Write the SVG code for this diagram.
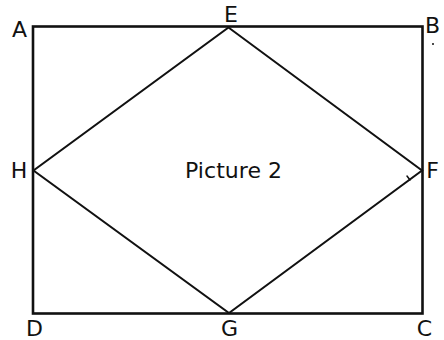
<svg xmlns="http://www.w3.org/2000/svg" width="444" height="340" viewBox="0 0 444 340">
<style>
.lbl{font-family:"DejaVu Sans","Liberation Sans",sans-serif;font-size:22px;fill:#111}
.edge{fill:none;stroke:#111;stroke-linecap:round;stroke-linejoin:miter}
</style>
<rect width="444" height="340" fill="#fff"/>
<g id="connectors">
<rect class="edge" x="33" y="26.5" width="389.5" height="287" stroke-width="2.6"/>
<polygon class="edge" points="228.5,27.5 422,170.5 229,313 33.5,170.5" stroke-width="2"/>
<path class="edge" d="M407,176 L410,180" stroke-width="1.5"/>
<circle cx="433" cy="44" r="1" fill="#111"/>
</g>
<g id="A"><text class="lbl" x="19.5" y="37" text-anchor="middle">A</text></g>
<g id="B"><text class="lbl" x="432.5" y="33" text-anchor="middle">B</text></g>
<g id="C"><text class="lbl" x="424.5" y="336" text-anchor="middle">C</text></g>
<g id="D"><text class="lbl" x="34.5" y="336" text-anchor="middle">D</text></g>
<g id="E"><text class="lbl" x="231" y="22" text-anchor="middle">E</text></g>
<g id="F"><text class="lbl" x="432.5" y="178" text-anchor="middle">F</text></g>
<g id="G"><text class="lbl" x="229.5" y="336" text-anchor="middle">G</text></g>
<g id="H"><text class="lbl" x="19" y="178" text-anchor="middle">H</text></g>
<g id="title"><text class="lbl" x="185" y="177.5" font-size="20" textLength="97" lengthAdjust="spacing">Picture 2</text></g>
</svg>
